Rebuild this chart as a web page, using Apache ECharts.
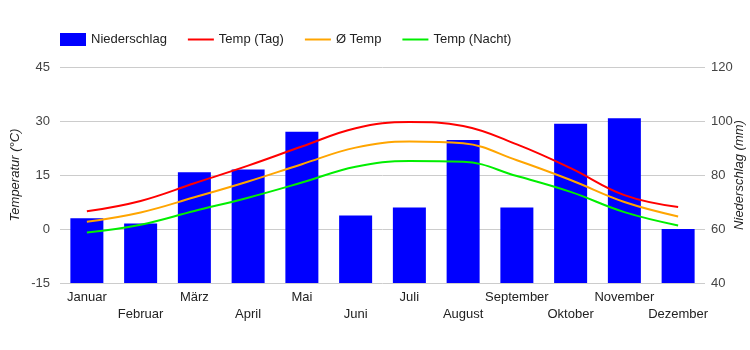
<!DOCTYPE html>
<html>
<head>
<meta charset="utf-8">
<script src="https://cdn.jsdelivr.net/npm/echarts@6/dist/echarts.min.js"></script>
<style>
  html, body { margin: 0; padding: 0; background: #fff; }
  #chart { width: 750px; height: 350px; }
</style>
</head>
<body>
<div id="chart"></div>
<script>
"use strict";

var months = ['Januar', 'Februar', 'März', 'April', 'Mai', 'Juni',
              'Juli', 'August', 'September', 'Oktober', 'November', 'Dezember'];
var niederschlag = [64, 62, 81, 82, 96, 65, 68, 93, 68, 99, 101, 60];
var tempTag = [4.9, 7.8, 12.7, 17.6, 22.9, 28, 29.7, 28.6, 23.5, 16.9, 9.4, 6.1];
var tempMittel = [2, 4.6, 8.8, 13.2, 18, 22.6, 24.3, 23.8, 19.1, 13.6, 7.5, 3.5];
var tempNacht = [-1, 1.2, 5, 8.7, 12.9, 17.3, 18.9, 18.7, 14.7, 10.3, 4.7, 1];

var chart = echarts.init(document.getElementById('chart'));

var labelFont = { color: '#444', fontSize: 13, fontFamily: 'Arial' };
// thin line icon for the legend, padded to the full icon box
var lineIcon = 'path://M0,0 L0,0 M0,5 L26,5 L26,7 L0,7 Z M26,12 L26,12';

var options = {
    animation: false,
    textStyle: { fontFamily: 'Arial' },
    legend: {
        left: 60,
        top: 33,
        padding: 0,
        itemWidth: 26,
        itemHeight: 13,
        itemGap: 21,
        textStyle: { color: '#222', fontSize: 13, fontFamily: 'Arial' },
        data: [
            { name: 'Niederschlag', icon: 'rect' },
            { name: 'Temp (Tag)', icon: lineIcon },
            { name: 'Ø Temp', icon: lineIcon },
            { name: 'Temp (Nacht)', icon: lineIcon }
        ]
    },
    grid: {
        left: 60,
        right: 45,
        top: 67,
        bottom: 67,
        outerBoundsMode: 'none',
        containLabel: false
    },
    xAxis: [{
        type: 'category',
        data: months,
        axisLine: { show: false },
        axisTick: { show: false },
        axisLabel: {
            interval: 0,
            color: '#222',
            fontSize: 13,
            fontFamily: 'Arial',
            margin: 6,
            lineHeight: 17,
            formatter: function (value, index) {
                return index % 2 === 1 ? '\n' + value : value;
            }
        }
    }],
    yAxis: [{
        type: 'value',
        min: -15,
        max: 45,
        interval: 15,
        position: 'left',
        name: 'Temperatur (°C)',
        nameLocation: 'middle',
        nameRotate: 90,
        nameGap: 38,
        nameMoveOverlap: false,
        nameTextStyle: { color: '#222', fontSize: 13, fontStyle: 'italic', fontFamily: 'Arial' },
        axisLabel: Object.assign({ margin: 10 }, labelFont),
        splitLine: { lineStyle: { color: '#ccc' } },
        axisLine: { show: false },
        axisTick: { show: false }
    }, {
        type: 'value',
        min: 40,
        max: 120,
        interval: 20,
        position: 'right',
        name: 'Niederschlag (mm)',
        nameLocation: 'middle',
        nameRotate: 90,
        nameGap: 28,
        nameMoveOverlap: false,
        nameTextStyle: { color: '#222', fontSize: 13, fontStyle: 'italic', fontFamily: 'Arial' },
        axisLabel: Object.assign({ margin: 6 }, labelFont),
        splitLine: { show: false },
        axisLine: { show: false },
        axisTick: { show: false }
    }],
    series: [{
        name: 'Niederschlag',
        type: 'bar',
        yAxisIndex: 1,
        barWidth: 33,
        itemStyle: { color: '#0000ff' },
        data: niederschlag
    }, {
        name: 'Temp (Tag)',
        type: 'line',
        yAxisIndex: 0,
        smooth: 0.4,
        symbol: 'none',
        lineStyle: { color: '#ff0000', width: 2 },
        itemStyle: { color: '#ff0000' },
        data: tempTag
    }, {
        name: 'Ø Temp',
        type: 'line',
        yAxisIndex: 0,
        smooth: 0.4,
        symbol: 'none',
        lineStyle: { color: '#ffa500', width: 2 },
        itemStyle: { color: '#ffa500' },
        data: tempMittel
    }, {
        name: 'Temp (Nacht)',
        type: 'line',
        yAxisIndex: 0,
        smooth: 0.4,
        symbol: 'none',
        lineStyle: { color: '#00ee00', width: 2 },
        itemStyle: { color: '#00ee00' },
        data: tempNacht
    }]
};

chart.setOption(options);
</script>
</body>
</html>
